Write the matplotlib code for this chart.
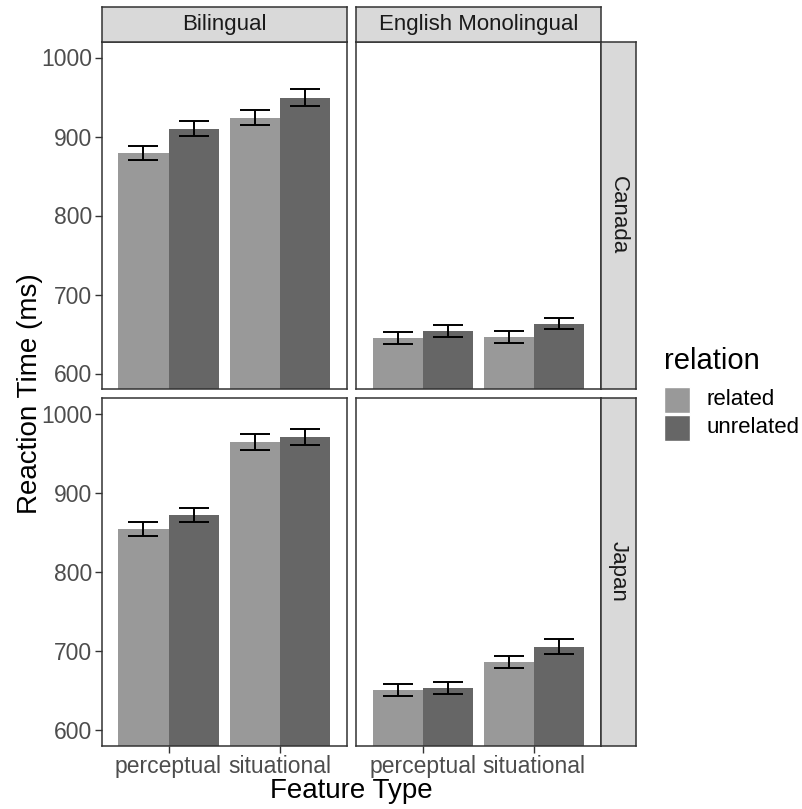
import numpy as np
import matplotlib
matplotlib.use("Agg")
import matplotlib.pyplot as plt
from matplotlib.patches import Rectangle

plt.rcParams['font.family'] = ['Liberation Sans', 'DejaVu Sans']

# data
groups = ["Bilingual", "English Monolingual"]
countries = ["Canada", "Japan"]
features = ["perceptual", "situational"]
relations = ["related", "unrelated"]
colors = ["#999999", "#666666"]

# rt[country][group] -> [perceptual related, perceptual unrelated, situational related, situational unrelated]
rt_canada_bi = [879, 910, 924, 949]
rt_canada_mono = [645, 654, 646, 663]
rt_japan_bi = [854, 872, 964, 970]
rt_japan_mono = [650, 653, 686, 705]

se_canada_bi = [9.0, 9.7, 9.3, 10.7]
se_canada_mono = [7.6, 7.4, 7.4, 7.1]
se_japan_bi = [8.5, 9.0, 10.6, 10.2]
se_japan_mono = [7.4, 7.5, 8.0, 9.3]

rt = {("Canada", "Bilingual"): (rt_canada_bi, se_canada_bi),
      ("Canada", "English Monolingual"): (rt_canada_mono, se_canada_mono),
      ("Japan", "Bilingual"): (rt_japan_bi, se_japan_bi),
      ("Japan", "English Monolingual"): (rt_japan_mono, se_japan_mono)}

W, H = 803, 809
fig = plt.figure(figsize=(W / 100, H / 100), dpi=100)


def rect(x0, y0, x1, y1):
    return [x0 / W, 1 - y1 / H, (x1 - x0) / W, (y1 - y0) / H]


col_x = [(101.7, 346.7), (356.0, 601.0)]
row_y = [(41.7, 389.3), (397.7, 745.7)]
strip_top = (6.7, 41.7)
strip_right = (601.0, 636.0)

border = "#333333"
tickcol = "#4D4D4D"

for r, country in enumerate(countries):
    for c, grp in enumerate(groups):
        ax = fig.add_axes(rect(col_x[c][0], row_y[r][0], col_x[c][1], row_y[r][1]))
        vals, errs = rt[(country, grp)]
        for k, rel in enumerate(relations):
            xs = np.arange(1, len(features) + 1) + (k - 0.5) * 0.45
            v = vals[k::2]
            e = errs[k::2]
            ax.bar(xs, v, width=0.45, color=colors[k], linewidth=0)
            ax.errorbar(xs, v, yerr=e, fmt="none", ecolor="black",
                        elinewidth=1.4, capsize=11, capthick=1.4)
        ax.set_xlim(0.4, 2.6)
        ax.set_ylim(580, 1020)
        ax.set_xticks([1, 2])
        ax.set_yticks([600, 700, 800, 900, 1000])
        for s in ax.spines.values():
            s.set_color(border)
            s.set_linewidth(1.1)
        ax.tick_params(length=5, width=1.0, color=border, labelsize=16.5,
                       labelcolor=tickcol, pad=2)
        if r == 1:
            ax.set_xticklabels(features)
        else:
            ax.tick_params(axis="x", bottom=False, labelbottom=False)
        if c != 0:
            ax.tick_params(axis="y", left=False, labelleft=False)

        # strips
        if r == 0:
            sax = fig.add_axes(rect(col_x[c][0], strip_top[0], col_x[c][1], strip_top[1]))
            sax.set_facecolor("#D9D9D9")
            sax.set_xticks([])
            sax.set_yticks([])
            for s in sax.spines.values():
                s.set_color(border)
                s.set_linewidth(1.1)
            sax.text(0.5, 0.5, grp, ha="center", va="center", fontsize=16,
                     color="#1A1A1A", transform=sax.transAxes)
    sax = fig.add_axes(rect(strip_right[0], row_y[r][0], strip_right[1], row_y[r][1]))
    sax.set_facecolor("#D9D9D9")
    sax.set_xticks([])
    sax.set_yticks([])
    for s in sax.spines.values():
        s.set_color(border)
        s.set_linewidth(1.1)
    sax.text(0.5, 0.5, country, ha="center", va="center", fontsize=16,
             rotation=-90, color="#1A1A1A", transform=sax.transAxes)

# axis titles
fig.text(30 / W, 1 - 394 / H, "Reaction Time (ms)", rotation=90, ha="center",
         va="center", fontsize=20, color="black")
fig.text(351 / W, 1 - 791 / H, "Feature Type", ha="center", va="center",
         fontsize=20, color="black")

# legend
lax = fig.add_axes([0, 0, 1, 1], zorder=-1)
lax.set_xlim(0, W)
lax.set_ylim(H, 0)
lax.axis("off")
lax.text(664, 369, "relation", fontsize=21, ha="left", va="baseline", color="black")
key_y = [386.7, 414.8]
for k, rel in enumerate(relations):
    lax.add_patch(Rectangle((664, key_y[k]), 26, 26, facecolor=colors[k], edgecolor="white", linewidth=1))
    lax.text(706.5, key_y[k] + 13, rel, fontsize=16, ha="left", va="center", color="black")

fig.savefig("out.png", dpi=100)
